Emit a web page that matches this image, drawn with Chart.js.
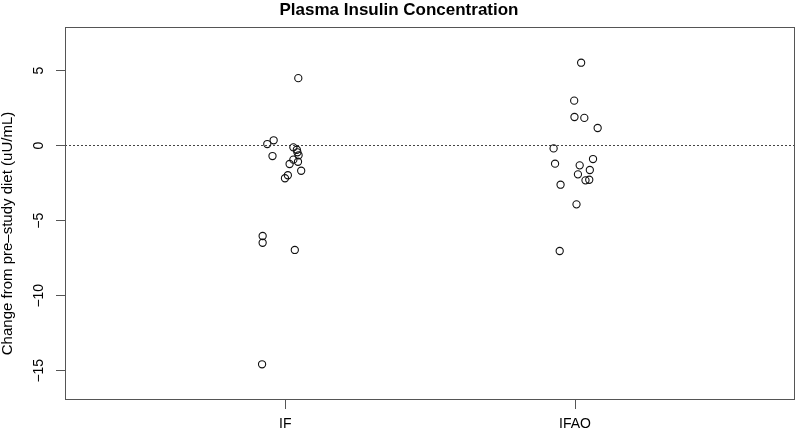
<!DOCTYPE html>
<html>
<head>
<meta charset="utf-8">
<script src="https://cdn.jsdelivr.net/npm/chart.js@4/dist/chart.umd.min.js"></script>
<style>
html,body{margin:0;padding:0;background:#fff;}
#wrap{width:800px;height:430px;position:relative;}
</style>
</head>
<body>
<div id="wrap"><canvas id="c" width="800" height="430"></canvas></div>
<script>
// ---- data ----
const chartTitle = 'Plasma Insulin Concentration';
const yAxisTitle = 'Change from pre\u2013study diet (uU/mL)';
const categories = ['IF', 'IFAO'];
const xTickValues = [1, 2];
const yTickValues = [-15, -10, -5, 0, 5];

const ifValues = [4.5, 0.36, 0.11, -0.69, -0.11, -0.27, -0.44, -0.64, -0.93, -1.07, -1.22, -1.67, -1.97, -2.17, -6.02, -6.47, -6.95, -14.57];
const ifJitter = [0.045, -0.040, -0.062, -0.044, 0.028, 0.040, 0.042, 0.046, 0.028, 0.044, 0.015, 0.055, 0.009, -0.001, -0.078, -0.078, 0.033, -0.080];

const ifaoValues = [5.53, 3.0, 1.91, 1.85, 1.18, -0.18, -1.2, -0.89, -1.31, -1.62, -1.91, -2.31, -2.27, -2.6, -3.91, -7.02];
const ifaoJitter = [0.021, -0.003, -0.002, 0.032, 0.078, -0.074, -0.069, 0.062, 0.016, 0.051, 0.010, 0.036, 0.049, -0.050, 0.005, -0.053];

// ---- build ----
const FONT = "'Liberation Sans', Arial, Helvetica, sans-serif";
function toPoints(vals, jit, cat) {
  return vals.map((v, i) => ({ x: cat + jit[i], y: v }));
}
const pointStyle = {
  type: 'scatter',
  pointStyle: 'circle',
  pointRadius: 3.6,
  pointHoverRadius: 3.6,
  pointBorderWidth: 1.1,
  borderColor: '#111',
  backgroundColor: 'rgba(0,0,0,0)'
};

const boxPlugin = {
  id: 'box',
  afterDraw(chart) {
    const { ctx, chartArea: a } = chart;
    ctx.save();
    ctx.strokeStyle = '#555';
    ctx.lineWidth = 1;
    ctx.strokeRect(Math.round(a.left) + 0.5, Math.round(a.top) + 0.5,
                   Math.round(a.right - a.left) - 1, Math.round(a.bottom - a.top) - 1);
    // y axis title
    ctx.fillStyle = '#000';
    ctx.font = "15px " + FONT;
    ctx.textAlign = 'center';
    ctx.textBaseline = 'middle';
    ctx.translate(8, 233.5);
    ctx.rotate(-Math.PI / 2);
    ctx.fillText(yAxisTitle, 0, 0);
    ctx.restore();
  }
};

new Chart(document.getElementById('c'), {
  type: 'scatter',
  data: {
    datasets: [
      Object.assign({ label: categories[0], data: toPoints(ifValues, ifJitter, 1) }, pointStyle),
      Object.assign({ label: categories[1], data: toPoints(ifaoValues, ifaoJitter, 2) }, pointStyle)
    ]
  },
  options: {
    responsive: false,
    animation: false,
    events: [],
    layout: { padding: { left: 0, right: 2, top: 0, bottom: 0 } },
    plugins: {
      legend: { display: false },
      tooltip: { enabled: false },
      title: {
        display: true,
        text: chartTitle,
        color: '#000',
        font: { family: FONT, size: 17, weight: 'bold', lineHeight: 1.2 },
        padding: { top: 0, bottom: 6.3 }
      }
    },
    scales: {
      x: {
        type: 'linear',
        min: 0.24,
        max: 2.76,
        afterBuildTicks: (s) => { s.ticks = xTickValues.map(v => ({ value: v })); },
        afterFit: (s) => { s.height = 30; },
        ticks: {
          color: '#000',
          font: { family: FONT, size: 14 },
          padding: 7,
          autoSkip: false,
          maxRotation: 0,
          callback: (v, i) => categories[i]
        },
        grid: {
          drawOnChartArea: false,
          drawTicks: true,
          tickLength: 9,
          tickColor: '#555',
          tickWidth: 1
        },
        border: { display: false }
      },
      y: {
        type: 'linear',
        min: -16.95,
        max: 7.93,
        afterBuildTicks: (s) => { s.ticks = yTickValues.map(v => ({ value: v })); },
        afterFit: (s) => { s.width = 65; },
        ticks: {
          color: '#000',
          font: { family: FONT, size: 14 },
          padding: 5,
          minRotation: 90,
          maxRotation: 90,
          crossAlign: 'center',
          autoSkip: false,
          callback: (v) => String(v).replace('-', '\u2212')
        },
        grid: {
          drawOnChartArea: true,
          drawTicks: true,
          tickLength: 9,
          color: (ctx) => (ctx.tick && ctx.tick.value === 0) ? '#444' : 'rgba(0,0,0,0)',
          tickColor: '#555',
          tickWidth: 1,
          lineWidth: 1
        },
        border: { display: false, dash: [2, 2] }
      }
    }
  },
  plugins: [boxPlugin]
});
</script>
</body>
</html>
